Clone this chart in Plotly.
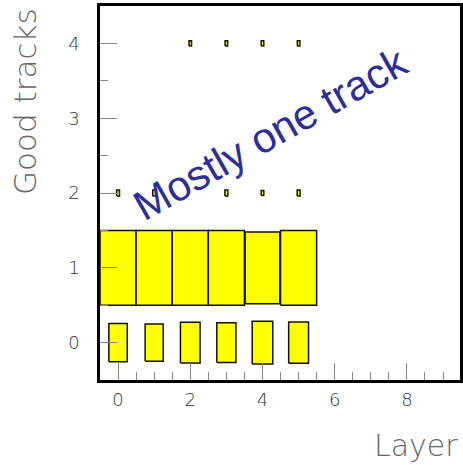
import plotly.graph_objects as go

# ---- data ----
layers = [0, 1, 2, 3, 4, 5]
tracks = [0, 1, 2, 3, 4]
counts_t0 = [510, 500, 545, 530, 570, 550]
counts_t1 = [1000, 1000, 1000, 1000, 960, 1000]
counts_t2 = [80, 80, 0, 80, 70, 80]
counts_t3 = [0, 0, 0, 0, 0, 0]
counts_t4 = [0, 0, 70, 70, 70, 70]
x_ticks = [0, 2, 4, 6, 8]
y_ticks = [0, 1, 2, 3, 4]
x_title = "Layer"
y_title = "Good tracks"
note = "Mostly one track"

rows = [counts_t0, counts_t1, counts_t2, counts_t3, counts_t4]
cmax = max(max(r) for r in rows)

fig = go.Figure()
for t, row in zip(tracks, rows):
    for lay, c in zip(layers, row):
        if c <= 0:
            continue
        f = c / cmax / 2.0
        xs = [lay - f, lay + f, lay + f, lay - f, lay - f]
        ys = [t - f, t - f, t + f, t + f, t - f]
        fig.add_trace(go.Scatter(
            x=xs, y=ys, mode="lines", fill="toself",
            fillcolor="#ffff00", line=dict(color="#111111", width=1.5),
            hoverinfo="skip", showlegend=False))

axis_font = dict(family="DejaVu Sans", size=18, color="#333333", weight=200)

fig.update_xaxes(
    range=[-0.5, 9.47], tickvals=x_ticks, ticks="inside", ticklen=17,
    tickcolor="#888888", tickwidth=1, showgrid=False, zeroline=False,
    showline=True, linecolor="#000000", linewidth=2.5, mirror=True,
    tickfont=axis_font, ticklabelstandoff=2,
    minor=dict(dtick=0.5, tick0=0, ticks="inside", ticklen=8,
               tickcolor="#888888", tickwidth=1, showgrid=False))
fig.update_yaxes(
    range=[-0.5, 4.5], tickvals=y_ticks, ticks="inside", ticklen=17,
    tickcolor="#888888", tickwidth=1, showgrid=False, zeroline=False,
    showline=True, linecolor="#000000", linewidth=2.5, mirror=True,
    tickfont=axis_font, ticklabelstandoff=14,
    minor=dict(dtick=0.5, tick0=0, ticks="inside", ticklen=8,
               tickcolor="#888888", tickwidth=1, showgrid=False))

fig.add_annotation(
    x=4.23, y=2.8, xref="x", yref="y", text=note, showarrow=False,
    textangle=-29.5, font=dict(family="Liberation Sans", size=42, color="#2e2e9a"))

fig.add_annotation(
    x=1.0, y=-0.175, xref="paper", yref="paper", xanchor="right", yanchor="middle",
    text=x_title, showarrow=False,
    font=dict(family="DejaVu Sans", size=30, color="#666666", weight=200))
fig.add_annotation(
    x=-0.21, y=1.0, xref="paper", yref="paper", xanchor="center", yanchor="top",
    text=y_title, showarrow=False, textangle=-90,
    font=dict(family="DejaVu Sans", size=31, color="#666666", weight=200))

fig.update_layout(
    width=463, height=465,
    margin=dict(l=100, r=0, t=6, b=85),
    paper_bgcolor="white", plot_bgcolor="white",
    showlegend=False)

fig.write_html("out.html", config={"displayModeBar": False},
               post_script="document.body.style.margin='0';")
